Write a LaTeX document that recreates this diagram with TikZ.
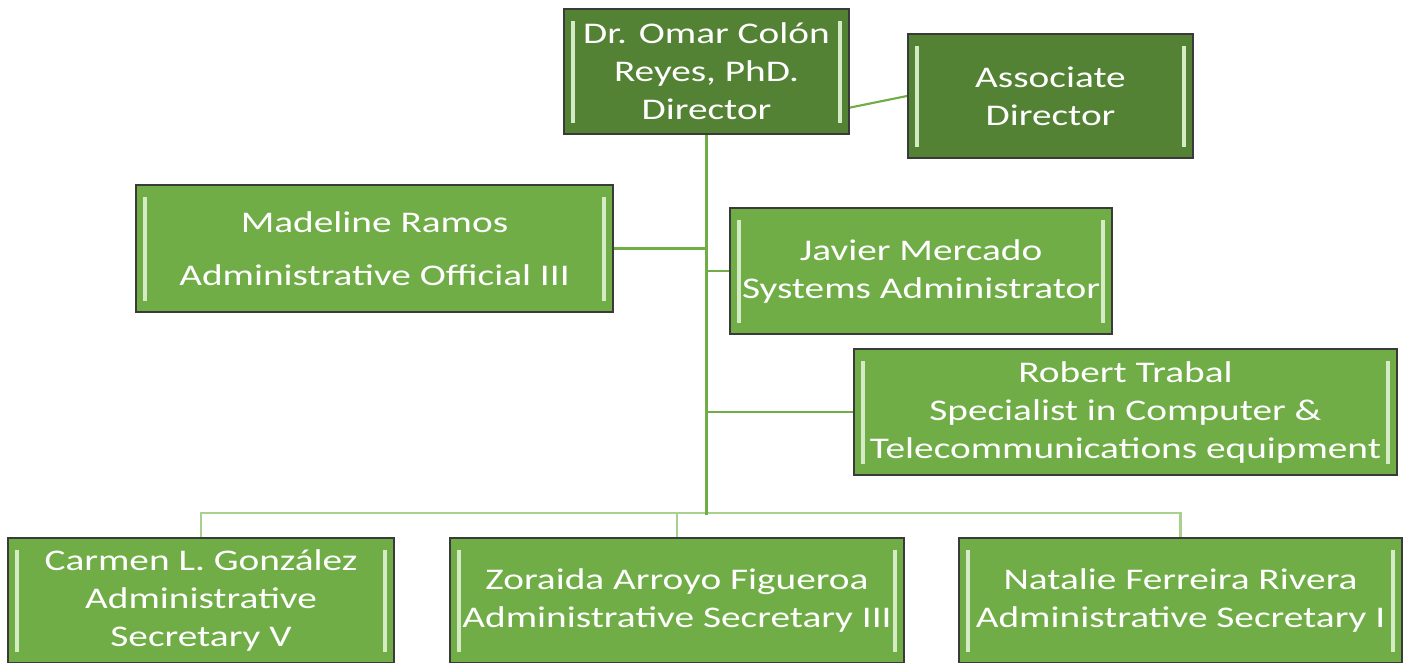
\documentclass[tikz,border=0pt]{standalone}
\usepackage{fontspec}
\setmainfont{Carlito}[FakeStretch=1.31]
\usetikzlibrary{calc}
\definecolor{gdark}{HTML}{548235}
\definecolor{glight}{HTML}{70AD47}
\definecolor{gline}{HTML}{70AD47}
\definecolor{gpale}{HTML}{A9D18E}
\definecolor{gbar}{HTML}{D5EBC6}
\definecolor{bord}{HTML}{3A3A3A}
\tikzset{
  orgbox/.style={draw=bord, line width=1.5pt, fill=#1, text=white, align=center,
    inner sep=0pt, font=\fontsize{22.5}{28.5}\selectfont,
    path picture={
      \fill[gbar] ($(path picture bounding box.north west)+(7,12)$) rectangle ($(path picture bounding box.south west)+(11,-11)$);
      \fill[gbar] ($(path picture bounding box.north east)+(-11,12)$) rectangle ($(path picture bounding box.south east)+(-7,-11)$);
    }},
  bw/.style={minimum width={#1*0.75pt}},
  bh/.style={minimum height={#1*0.75pt}},
  trunk/.style={draw=gline, line width=1.6pt},
  pale/.style={draw=gpale, line width=1.6pt}
}
\begin{document}
\begin{tikzpicture}[x=0.75pt,y=-0.75pt]
\useasboundingbox (0,0) rectangle (1403,662);
\node[orgbox=gdark, bw=285, bh=125] (dir) at (706.5,71.5) {Dr. Omar Colón\\Reyes, PhD.\\Director};
\node[orgbox=gdark, bw=285, bh=124] (assoc) at (1050.5,96) {Associate\\Director};
\node[orgbox=glight, bw=477, bh=127] (mad) at (374.5,248.5) {Madeline Ramos\\[11pt]Administrative Official III};
\node[orgbox=glight, bw=382, bh=126] (jav) at (921,271) {Javier Mercado\\Systems Administrator};
\node[orgbox=glight, bw=543, bh=126] (rob) at (1125.5,412) {Robert Trabal\\Specialist in Computer \&\\Telecommunications equipment};
\node[orgbox=glight, bw=386, bh=125] (car) at (201,600.5) {Carmen L. González\\Administrative\\Secretary V};
\node[orgbox=glight, bw=454, bh=125] (zor) at (677,600.5) {Zoraida Arroyo Figueroa\\Administrative Secretary III};
\node[orgbox=glight, bw=443, bh=125] (nat) at (1180.5,600.5) {Natalie Ferreira Rivera\\Administrative Secretary I};
\coordinate (tb) at ($(dir.south)+(0,380)$);
\draw[pale] (car.north) -- ++(0,-24) -| (nat.north);
\draw[pale] (zor.north) -- ++(0,-24);
\draw[trunk] (dir.south) -- (tb);
\draw[trunk] (mad.east) -- (mad.east -| dir.south);
\draw[trunk] (jav.west) -- (jav.west -| dir.south);
\draw[trunk] (rob.west) -- (rob.west -| dir.south);
\draw[trunk] ($(dir.north east)!0.784!(dir.south east)$) -- (assoc.west);
\end{tikzpicture}
\end{document}
